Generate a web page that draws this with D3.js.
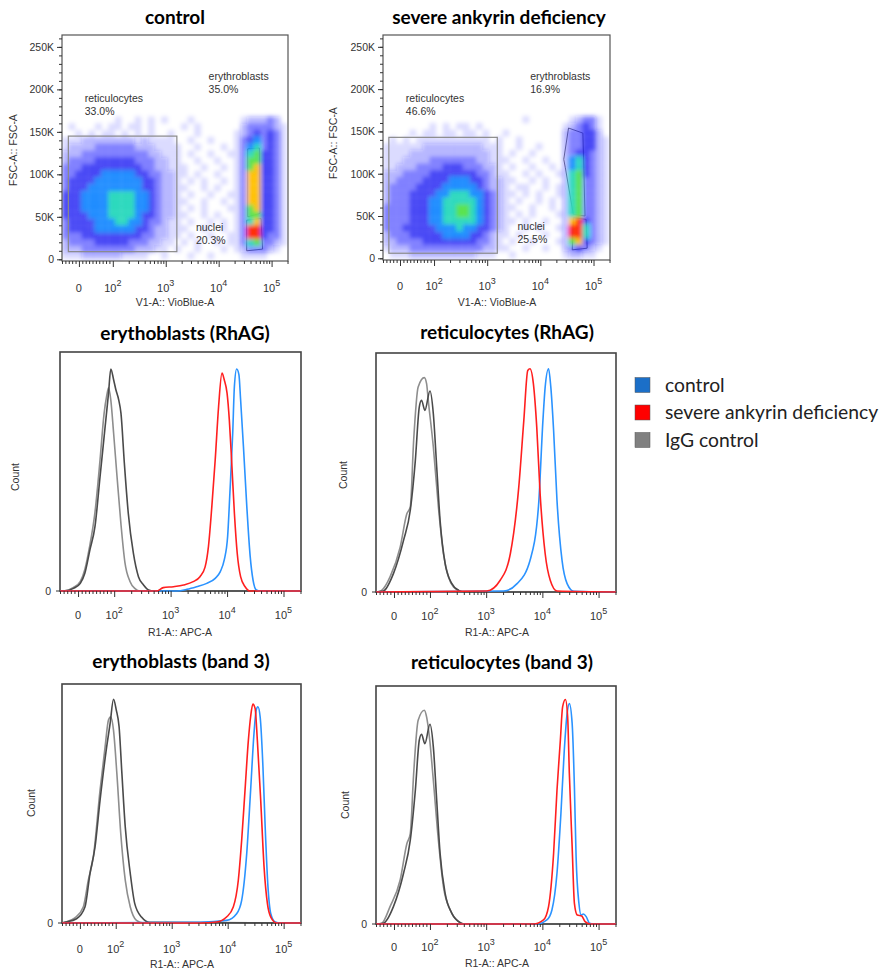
<!DOCTYPE html>
<html>
<head>
<meta charset="utf-8">
<script src="https://cdn.jsdelivr.net/npm/d3@7"></script>
<style>
  body { margin: 0; background: #fff; }
  text { font-family: "Liberation Sans", Arial, sans-serif; fill: #333; }
  .title { font-family: Lato, "Open Sans", sans-serif; font-weight: bold; fill: #000; }
  .legend text { font-family: Lato, "Open Sans", sans-serif; fill: #222; }
</style>
</head>
<body>
<svg id="fig" width="885" height="972"></svg>
<script>
// display units on the x axes: "decades" of a biexponential scale (10^k sits at k)
const X_MIN = 1.04, X_MAX = 5.31;
const xTickPos = [1.36, 2, 3, 4, 5];
const xTickExp = [null, "2", "3", "4", "5"];   // null -> label "0"
const fscTicks = [0, 50, 100, 150, 200, 250];  // K

// scatter density. rows of 8K from 264K down, columns of 1/8 decade from X_MIN
// levels: . none, 1-4 blue (sparse -> dense), 5 light blue, 6 cyan, 7 green, 8 yellow/orange, 9 red
const gridStepU = 0.125, gridStepK = 8, gridTopK = 264;
const controlDensity = [
  "...... ...... ...... ...... ...... ....",
  "...... ...... ...... ...... ...... ....",
  "...... ...... ...... ...... ...... ....",
  "...... ...... ...... ...... ...... ....",
  "...... ...... ...... ...... ...... ....",
  "...... ...... ...... ...... ...... ....",
  "...... ...... ...... ...... ...... ....",
  "...... ...... ...... ...... ...... ....",
  "...... ...... ...... ...... ...... ....",
  "...... ...... ...... ...... ...... ....",
  "...... ...... ...... ...... ...... ....",
  "...... ...... ...... ...... ...... ....",
  "...... ..1..1 .1.1.. .1.... ...122 232.",
  ".1...1 .11.11 .1.... 1.1... ...233 3321",
  "..1.1. 11.1.1 .1..1. ..1... ..1234 3431",
  "111222 222221 21111. .1..1. ..1345 3431",
  "122223 333332 221111 ..1... 1.1356 3431",
  "222333 333333 322111 .1..1. .11367 4431",
  "233334 444443 332211 ..1..1 ..1377 4431",
  "333444 444444 332211 1..1.. 1.1378 4431",
  "334444 555554 433221 1.1..1 ..1388 4431",
  "344445 555555 443221 .1.1.. 1.1388 4431",
  "344455 555555 443221 1..1.1 ..1388 4431",
  "444555 566665 543221 .1..1. .11388 4431",
  "444555 566665 543221 1..1.. 1.1388 4431",
  "444555 566665 543221 .1.1.. .11378 4431",
  "444455 566665 443221 1..1.1 ..1377 4431",
  "344445 556655 433211 .1..1. 1.1368 4431",
  "344445 555554 432211 1..1.. 1.1399 4431",
  "333444 444444 332211 .1..1. .11399 4331",
  "233334 444433 32211. 1.1..1 .11367 3321",
  "222333 333332 2211.1 ..1... 1.1233 321.",
  "111222 222111 1..1.. .1..1. ...111 1..."
];
const severeDensity = [
  "...... ...... ...... ...... ...... ....",
  "...... ...... ...... ...... ...... ....",
  "...... ...... ...... ...... ...... ....",
  "...... ...... ...... ...... ...... ....",
  "...... ...... ...... ...... ...... ....",
  "...... ...... ...... ...... ...... ....",
  "...... ...... ...... ...... ...... ....",
  "...... ...... ...... ...... ...... ....",
  "...... ...... ...... ...... ...... ....",
  "...... ...... ...... ...... ...... ....",
  "...... ...... ...... ...... ...... ....",
  "...... ...... ...... ...... ...... ....",
  "...... ...... ...... ...1.. ....12 331.",
  "...... .1.1.1 1.1... ...... ...123 431.",
  "....1. 11.11. 11.1.. 1..... ...233 442.",
  ".1.1.1 111111 1111.1 ..1... ...233 4421",
  "111111 222222 222111 ..1..1 ...233 4421",
  "111122 222222 222211 .1..1. ...234 4321",
  "111222 233333 332211 1..1.. 1..256 4321",
  "112223 333444 333221 .1..1. .1.256 4321",
  "222333 344444 443321 1..1.1 ..1267 4321",
  "223333 444455 544322 11..1. 1..267 3321",
  "233334 444555 554322 1.11.. 1.1267 3321",
  "233344 445566 655432 11.1.1 ..1267 3321",
  "233344 455666 665432 1.1..1 .1.267 3321",
  "333344 455667 765432 11..1. .1.267 3321",
  "333344 455667 765432 1.1.1. ..1267 3321",
  "333344 455666 665432 11.1.. 1..289 4321",
  "333444 445556 554432 1..1.1 ..1299 6321",
  "233344 444555 544321 1.1... 1..299 6321",
  "223333 444444 443321 .1..1. ..1278 4321",
  "122233 333333 333221 1..1.. 1..234 321.",
  ".11122 222222 22111. .1.... ...122 11.."
];

// gates [u, K]
const controlRetGate = [[1.16, 9], [3.21, 145]];
const severeRetGate = [[1.15, 6], [3.19, 143]];
const controlEryGate = [[4.55, 130], [4.77, 131], [4.78, 54], [4.55, 50]];
const controlNucGate = [[4.53, 46], [4.80, 48], [4.83, 12], [4.53, 10]];
const severeEryGate = [[4.53, 154], [4.80, 148], [4.84, 50], [4.62, 52], [4.47, 107], [4.44, 117]];
const severeNucGate = [[4.62, 48], [4.86, 46], [4.88, 12], [4.60, 10]];

const gateNames = ["reticulocytes", "erythroblasts", "nuclei"];
const gateLabelPos = [[1.47, 185], [3.81, 211], [3.57, 33]];
const controlGatePct = ["33.0%", "35.0%", "20.3%"];
const severeGatePct = ["46.6%", "16.9%", "25.5%"];

// histograms: [u, count as % of frame height]
const rhagEryIggLight = [[1.10,0],[1.28,1.5],[1.40,4],[1.48,9],[1.56,18],[1.66,33],[1.75,55],[1.82,74],[1.87,82],[1.90,85],[1.94,80],[1.99,66],[2.05,48],[2.12,28],[2.19,12],[2.28,4],[2.37,1],[2.46,0]];
const rhagEryIggDark = [[1.10,0],[1.28,1.1],[1.40,3.2],[1.48,7.4],[1.57,17.2],[1.66,27],[1.75,47.9],[1.84,68.9],[1.90,82.8],[1.94,92.9],[1.99,88.4],[2.03,84.2],[2.08,80],[2.12,74.4],[2.18,53.5],[2.25,32.5],[2.34,15.8],[2.43,6],[2.52,2.5],[2.61,0.4],[2.70,0]];
const rhagEryControl = [[3.11,0],[3.29,0.7],[3.46,1.8],[3.64,3.2],[3.79,5.3],[3.88,8.1],[3.95,13],[4.01,22.8],[4.05,40.9],[4.10,66],[4.13,85.6],[4.17,92.9],[4.21,90.5],[4.24,80],[4.29,60.5],[4.35,35.3],[4.41,14.4],[4.46,4.6],[4.52,0.4],[4.59,0]];
const rhagErySevere = [[2.75,0],[2.87,1.4],[3.05,1.8],[3.23,2.5],[3.40,3.9],[3.52,6],[3.61,10],[3.67,18.6],[3.73,35.3],[3.79,54.9],[3.85,77.2],[3.91,91.2],[3.95,88.4],[4.00,82.8],[4.04,71.6],[4.08,54.9],[4.13,32.5],[4.18,15.8],[4.24,6],[4.32,1.8],[4.41,0]];

const rhagRetIggLight = [[1.14,0.7],[1.29,6.3],[1.47,18.8],[1.59,32.8],[1.65,35.6],[1.71,63.5],[1.79,85.8],[1.90,89.7],[1.94,87.2],[1.97,80.2],[2.06,60.7],[2.15,35.6],[2.24,16],[2.33,6.3],[2.42,2.1],[2.54,0.4],[2.60,0]];
const rhagRetIggDark = [[1.17,0.4],[1.35,7.7],[1.53,21.6],[1.65,34.2],[1.74,55.1],[1.81,77.4],[1.85,80.2],[1.91,76],[2.00,84.1],[2.06,74.6],[2.12,52.3],[2.18,30],[2.27,11.9],[2.39,3.5],[2.51,0.7],[2.60,0]];
const rhagRetControl = [[3.31,0.4],[3.55,3.5],[3.78,13.2],[3.93,35.6],[4.01,71.8],[4.05,85.8],[4.11,93.4],[4.15,85.8],[4.20,67.6],[4.26,38.4],[4.35,13.2],[4.44,3.5],[4.56,0.3]];
const rhagRetSevere = [[3.01,0.4],[3.25,4.9],[3.43,16],[3.58,43.9],[3.67,71.8],[3.74,92.7],[3.78,93.4],[3.84,87.2],[3.90,69],[3.96,41.1],[4.05,16],[4.14,4.9],[4.26,0.4]];

const band3EryIggLight = [[1.09,0.3],[1.27,2.1],[1.42,6.7],[1.51,17.9],[1.60,27.7],[1.72,55.6],[1.81,73.7],[1.87,84.9],[1.91,86.3],[1.96,80.7],[2.02,62.6],[2.09,37.4],[2.17,17.9],[2.26,6.7],[2.37,1.1],[2.49,0]];
const band3EryIggDark = [[1.09,0.3],[1.30,1.8],[1.45,6.7],[1.54,20.7],[1.63,31.8],[1.72,51.4],[1.83,72.3],[1.90,83.5],[1.96,93.6],[2.01,89.1],[2.06,82.1],[2.11,62.6],[2.17,40.2],[2.26,20.7],[2.34,8.1],[2.46,2.5],[2.61,0.3]];
const band3EryControl = [[3.51,0.3],[3.98,1.1],[4.16,3.9],[4.25,9.5],[4.34,29],[4.41,55.6],[4.47,79.3],[4.51,89.1],[4.54,90.5],[4.58,86.3],[4.63,65.4],[4.67,40.2],[4.72,15.1],[4.77,3.9],[4.85,0.4],[4.94,0]];
const band3ErySevere = [[3.51,0],[3.80,0.4],[3.98,2.5],[4.10,6.7],[4.19,17.9],[4.25,34.6],[4.31,55.6],[4.37,76.5],[4.41,86.3],[4.45,91.6],[4.49,89.8],[4.53,76.5],[4.59,51.4],[4.65,23.5],[4.71,8.1],[4.77,2.5],[4.88,0]];

const band3RetIggLight = [[1.14,0.3],[1.29,7.3],[1.47,18.5],[1.59,33.8],[1.65,38],[1.71,63.2],[1.79,85.6],[1.90,89.8],[1.94,87],[1.99,78.6],[2.06,60.4],[2.15,35.2],[2.24,15.7],[2.36,5.9],[2.51,1],[2.60,0]];
const band3RetIggDark = [[1.17,0.3],[1.35,7.3],[1.53,21.3],[1.65,35.2],[1.74,56.2],[1.81,77.2],[1.85,79.7],[1.91,75.8],[2.00,83.9],[2.06,74.4],[2.12,52],[2.18,29.7],[2.27,12.9],[2.39,4.5],[2.54,0.6],[2.63,0]];
const band3RetControl = [[3.90,0],[4.08,1.7],[4.17,5.9],[4.26,21.3],[4.33,46.4],[4.39,73],[4.44,88.4],[4.48,92.6],[4.53,84.2],[4.57,57.6],[4.60,28.3],[4.65,8.7],[4.69,3.8],[4.73,4.2],[4.78,3.1],[4.84,0.3],[4.91,0]];
const band3RetSevere = [[3.84,0],[4.02,1.7],[4.11,7.3],[4.20,29.7],[4.26,56.2],[4.32,77.2],[4.36,91.2],[4.41,94.3],[4.45,87],[4.48,63.2],[4.53,32.4],[4.57,8.7],[4.62,3.8],[4.70,3.4],[4.76,1],[4.85,0]];

const legendLabels = ["control", "severe ankyrin deficiency", "IgG control"];
const legendColors = ["#1b6fc8", "#ff0000", "#808080"];

// ---------------------------------------------------------------
const svg = d3.select("#fig");
const defs = svg.append("defs");
defs.append("filter").attr("id", "soft")
    .attr("x", "-10%").attr("y", "-10%").attr("width", "120%").attr("height", "120%")
  .append("feGaussianBlur").attr("stdDeviation", 2.2);

const densityColor = ["none", "#1818ff", "#1818ff", "#1414ff", "#1010f2", "#0a84ff", "#26d8bc", "#55e24a", "#ffc000", "#ff2600"];
const densityOpacity = [0, 0.14, 0.32, 0.55, 0.78, 0.95, 1, 1, 1, 1];

// minor ticks: linear part around 0, log part above 10^2
const zeroU = xTickPos[0];
const minorU = [];
for (let v = -50; v <= 90; v += 10) if (v !== 0) minorU.push(zeroU + v / 100 * (2 - zeroU));
for (let d = 2; d <= 5; d++) for (let k = 2; k <= 9; k++) {
  const u = d + Math.log10(k);
  if (u < X_MAX) minorU.push(u);
}

function drawXAxis(g, x, yPos, labelY, fontSize) {
  g.append("g").attr("transform", `translate(0,${yPos})`)
    .call(d3.axisBottom(x).tickValues(minorU).tickSize(3).tickSizeOuter(0).tickFormat(""))
    .call(a => a.select(".domain").remove())
    .selectAll("line").attr("stroke", "#333");
  g.append("g").attr("transform", `translate(0,${yPos})`)
    .call(d3.axisBottom(x).tickValues(xTickPos).tickSize(6).tickSizeOuter(0).tickFormat(""))
    .call(a => a.select(".domain").remove())
    .selectAll("line").attr("stroke", "#333");
  xTickPos.forEach((u, i) => {
    const t = g.append("text").attr("x", x(u)).attr("y", labelY)
      .attr("text-anchor", "middle").style("font-size", fontSize + "px");
    if (xTickExp[i] === null) {
      t.text("0");
    } else {
      t.append("tspan").text("10");
      t.append("tspan").attr("dy", -6).style("font-size", (fontSize - 2) + "px").text(xTickExp[i]);
    }
  });
}

function drawScatter(p) {
  const g = svg.append("g");
  const x = d3.scaleLinear().domain([X_MIN, X_MAX]).range([p.left, p.right]);
  const y = d3.scaleLinear().domain([-2, 264]).range([p.bottom, p.top]);

  const clipId = "clip" + p.id;
  defs.append("clipPath").attr("id", clipId)
    .append("rect").attr("x", p.left).attr("y", p.top)
    .attr("width", p.right - p.left).attr("height", p.bottom - p.top);

  // erythroblast / nuclei gates sit under the dots, so they only show where the dots are sparse
  const poly = d3.line().x(d => x(d[0])).y(d => y(d[1]));
  [p.eryGate, p.nucGate].forEach(gate => {
    g.append("path").attr("d", poly(gate) + "Z")
      .attr("fill", "none").attr("stroke", "#777").attr("stroke-width", 1);
  });

  const cells = [];
  p.density.forEach((row, r) => {
    row.replace(/ /g, "").split("").forEach((c, i) => {
      if (c !== ".") cells.push({ i, r, lvl: +c });
    });
  });
  g.append("g").attr("clip-path", `url(#${clipId})`)
    .append("g").attr("filter", "url(#soft)")
    .selectAll("rect").data(cells).join("rect")
      .attr("x", d => x(X_MIN + d.i * gridStepU))
      .attr("y", d => y(gridTopK - d.r * gridStepK))
      .attr("width", d => x(X_MIN + (d.i + 1) * gridStepU) - x(X_MIN + d.i * gridStepU))
      .attr("height", d => y(gridTopK - (d.r + 1) * gridStepK) - y(gridTopK - d.r * gridStepK))
      .attr("fill", d => densityColor[d.lvl])
      .attr("fill-opacity", d => densityOpacity[d.lvl]);

  // reticulocyte gate
  const rg = p.retGate;
  g.append("rect")
    .attr("x", x(rg[0][0])).attr("y", y(rg[1][1]))
    .attr("width", x(rg[1][0]) - x(rg[0][0])).attr("height", y(rg[0][1]) - y(rg[1][1]))
    .attr("fill", "none").attr("stroke", "#8a8a8a").attr("stroke-width", 1.2);

  // frame
  g.append("rect").attr("x", p.left).attr("y", p.top)
    .attr("width", p.right - p.left).attr("height", p.bottom - p.top)
    .attr("fill", "none").attr("stroke", "#555").attr("stroke-width", 1.2);

  // y axis
  g.append("g").attr("transform", `translate(${p.left},0)`)
    .call(d3.axisLeft(y).tickValues(d3.range(0, 261, 10)).tickSize(3).tickSizeOuter(0).tickFormat(""))
    .call(a => a.select(".domain").remove())
    .selectAll("line").attr("stroke", "#333");
  g.append("g").attr("transform", `translate(${p.left},0)`)
    .call(d3.axisLeft(y).tickValues(fscTicks).tickSize(5).tickSizeOuter(0)
      .tickFormat(d => d === 0 ? "0" : d + "K"))
    .call(a => a.select(".domain").remove())
    .call(a => a.selectAll("line").attr("stroke", "#333"))
    .call(a => a.selectAll("text").style("font-size", "10.5px").attr("fill", "#333")
      .style("font-family", "'Liberation Sans', Arial, sans-serif"));

  drawXAxis(g, x, p.bottom, p.tickLabelY, 11);

  g.append("text").attr("x", p.axisLabelX).attr("y", p.axisLabelY)
    .attr("text-anchor", "middle").style("font-size", "10.5px").text("V1-A:: VioBlue-A");
  g.append("text").attr("transform", `translate(${p.yLabelX},${p.yLabelY}) rotate(-90)`)
    .attr("text-anchor", "middle").style("font-size", "10.5px").text("FSC-A:: FSC-A");

  g.append("text").attr("class", "title").attr("x", p.titleX).attr("y", p.titleY)
    .attr("text-anchor", "middle").style("font-size", "19px").text(p.title);

  gateNames.forEach((name, i) => {
    const t = g.append("text").attr("x", x(gateLabelPos[i][0])).attr("y", y(gateLabelPos[i][1]))
      .style("font-size", "10.5px");
    t.append("tspan").text(name);
    t.append("tspan").attr("x", x(gateLabelPos[i][0])).attr("dy", 13).text(p.pct[i]);
  });
}

function drawHist(p) {
  const g = svg.append("g");
  const x = d3.scaleLinear().domain([X_MIN, X_MAX]).range([p.left, p.right]);
  const y = d3.scaleLinear().domain([0, 100]).range([p.bottom, p.top]);
  const line = d3.line().x(d => x(d[0])).y(d => y(d[1])).curve(d3.curveMonotoneX);
  const full = s => [[X_MIN, 0], ...s, [X_MAX, 0]];

  g.append("rect").attr("x", p.left).attr("y", p.top)
    .attr("width", p.right - p.left).attr("height", p.bottom - p.top)
    .attr("fill", "none").attr("stroke", "#444").attr("stroke-width", 1.6);

  const series = [
    { d: p.iggLight, c: "#8e8e8e" },
    { d: p.iggDark, c: "#4a4a4a" },
    { d: p.control, c: "#2b93ff" },
    { d: p.severe, c: "#ff1f1f" }
  ];
  g.selectAll(".curve").data(series).join("path")
    .attr("class", "curve")
    .attr("d", s => line(full(s.d)))
    .attr("fill", "none").attr("stroke", s => s.c).attr("stroke-width", 1.6);

  drawXAxis(g, x, p.bottom, p.tickLabelY, 11);
  g.append("line").attr("x1", p.left - 4).attr("x2", p.left)
    .attr("y1", y(0)).attr("y2", y(0)).attr("stroke", "#333");
  g.append("text").attr("x", p.left - 9).attr("y", y(0)).attr("dy", "0.35em")
    .attr("text-anchor", "end").style("font-size", "10.5px").text("0");

  g.append("text").attr("x", p.axisLabelX).attr("y", p.axisLabelY)
    .attr("text-anchor", "middle").style("font-size", "10.5px").text("R1-A:: APC-A");
  g.append("text").attr("transform", `translate(${p.countX},${p.countY}) rotate(-90)`)
    .attr("text-anchor", "middle").style("font-size", "10.5px").text("Count");

  g.append("text").attr("class", "title").attr("x", p.titleX).attr("y", p.titleY)
    .attr("text-anchor", "middle").style("font-size", "19px").text(p.title);
}

drawScatter({
  id: 1, left: 62, right: 288, top: 35, bottom: 261,
  density: controlDensity, retGate: controlRetGate, eryGate: controlEryGate, nucGate: controlNucGate,
  pct: controlGatePct, title: "control", titleX: 175, titleY: 24,
  tickLabelY: 292, axisLabelX: 175, axisLabelY: 306, yLabelX: 17, yLabelY: 150
});
drawScatter({
  id: 2, left: 383, right: 610, top: 35, bottom: 260,
  density: severeDensity, retGate: severeRetGate, eryGate: severeEryGate, nucGate: severeNucGate,
  pct: severeGatePct, title: "severe ankyrin deficiency", titleX: 499, titleY: 24,
  tickLabelY: 290, axisLabelX: 497, axisLabelY: 306, yLabelX: 337, yLabelY: 143
});

drawHist({
  left: 60, right: 301, top: 352, bottom: 591,
  iggLight: rhagEryIggLight, iggDark: rhagEryIggDark, control: rhagEryControl, severe: rhagErySevere,
  title: "erythoblasts (RhAG)", titleX: 185, titleY: 340,
  tickLabelY: 619, axisLabelX: 180, axisLabelY: 636, countX: 19, countY: 477
});
drawHist({
  left: 376, right: 616, top: 353, bottom: 592,
  iggLight: rhagRetIggLight, iggDark: rhagRetIggDark, control: rhagRetControl, severe: rhagRetSevere,
  title: "reticulocytes (RhAG)", titleX: 507, titleY: 339,
  tickLabelY: 620, axisLabelX: 497, axisLabelY: 636, countX: 347, countY: 475
});
drawHist({
  left: 62, right: 301, top: 684, bottom: 923,
  iggLight: band3EryIggLight, iggDark: band3EryIggDark, control: band3EryControl, severe: band3ErySevere,
  title: "erythoblasts (band 3)", titleX: 181, titleY: 668,
  tickLabelY: 953, axisLabelX: 182, axisLabelY: 968, countX: 35, countY: 803
});
drawHist({
  left: 376, right: 616, top: 686, bottom: 924,
  iggLight: band3RetIggLight, iggDark: band3RetIggDark, control: band3RetControl, severe: band3RetSevere,
  title: "reticulocytes (band 3)", titleX: 502, titleY: 669,
  tickLabelY: 951, axisLabelX: 497, axisLabelY: 967, countX: 349, countY: 805
});

// legend
const legend = svg.append("g").attr("class", "legend");
const ly = d3.scalePoint().domain(legendLabels).range([385, 440]);
legend.selectAll("rect").data(legendLabels).join("rect")
  .attr("x", 635).attr("y", d => ly(d) - 7.5).attr("width", 15).attr("height", 15)
  .attr("fill", (d, i) => legendColors[i]).attr("stroke", "#555").attr("stroke-width", 0.5);
legend.selectAll("text").data(legendLabels).join("text")
  .attr("x", 665).attr("y", d => ly(d)).attr("dy", "0.35em")
  .style("font-size", "19.3px").text(d => d);
</script>
</body>
</html>
